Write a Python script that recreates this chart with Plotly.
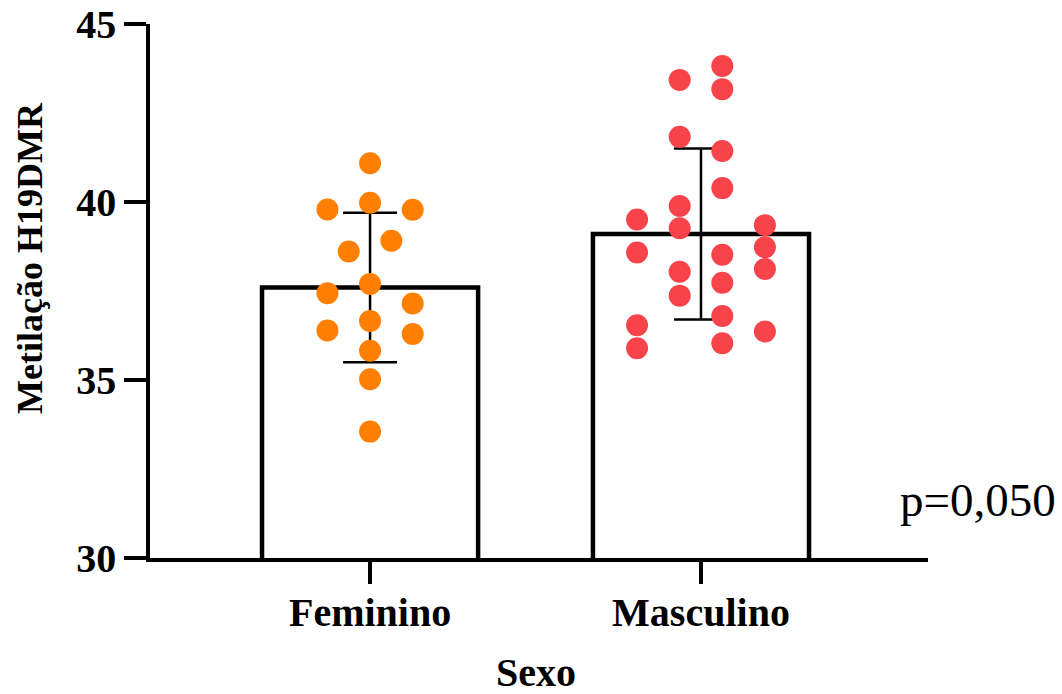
import plotly.graph_objects as go

# Groups, summary bars (mean ± SD) and individual measurements
categories = ["Feminino", "Masculino"]
bar_means = [37.6, 39.1]
bar_sd = [2.1, 2.4]

fem_values = [41.09, 39.79, 39.98, 39.78, 38.91, 38.61, 37.70, 37.44,
              37.15, 36.66, 36.39, 36.29, 35.82, 35.02, 33.55]
fem_slots = [0, -2, 0, 2, 1, -1, 0, -2, 2, 0, -2, 2, 0, 0, 0]

masc_values = [43.82, 43.43, 43.17, 41.83, 41.43, 40.39, 39.89, 39.51,
               39.35, 39.26, 38.73, 38.58, 38.52, 38.04, 38.12, 37.73,
               37.37, 36.80, 36.54, 36.36, 36.03, 35.89]
masc_slots = [1, -1, 1, -1, 1, 1, -1, -3, 3, -1, 3, -3, 1, -1, 3, 1,
              -1, 1, -3, 3, 1, -3]

y_ticks = [30, 35, 40, 45]
p_label = "p=0,050"

SERIF = "Liberation Serif, Times New Roman, serif"
SLOT_STEP = 0.0644  # horizontal step between swarm columns (x units)

fig = go.Figure()

fig.add_trace(go.Bar(
    x=[0, 1], y=bar_means, width=0.653,
    marker=dict(color="white", line=dict(color="black", width=4.5)),
    error_y=dict(type="data", array=bar_sd, visible=True,
                 color="black", thickness=2.5, width=27),
    showlegend=False, hoverinfo="skip",
))

for idx, (vals, slots, color) in enumerate([
    (fem_values, fem_slots, "#FF8000"),
    (masc_values, masc_slots, "#F8434A"),
]):
    fig.add_trace(go.Scatter(
        x=[idx + s * SLOT_STEP for s in slots], y=vals,
        mode="markers",
        marker=dict(size=22, color=color, line=dict(width=0)),
        showlegend=False, name=categories[idx],
    ))

fig.update_layout(
    width=1062, height=694,
    margin=dict(l=150, r=134, t=24, b=136),
    paper_bgcolor="white", plot_bgcolor="white",
    font=dict(family=SERIF, color="black"),
    xaxis=dict(
        range=[-0.665, 1.686], tickvals=[0, 1], ticktext=categories,
        showline=True, linecolor="black", linewidth=4,
        ticks="outside", ticklen=22, tickwidth=3.5, tickcolor="black",
        tickfont=dict(family=SERIF, size=40, weight="bold"),
        ticklabelstandoff=-6,
        showgrid=False, zeroline=False, automargin=False,
    ),
    yaxis=dict(
        range=[30, 45], tickvals=y_ticks,
        showline=True, linecolor="black", linewidth=3.5,
        ticks="outside", ticklen=22, tickwidth=3.5, tickcolor="black",
        tickfont=dict(family=SERIF, size=40, weight="bold"),
        showgrid=False, zeroline=False, automargin=False,
    ),
    annotations=[
        dict(text="Metilação H19DMR", textangle=-90, showarrow=False,
             xref="paper", yref="paper", x=0, xshift=-120, y=0.562,
             xanchor="center", yanchor="middle",
             font=dict(family=SERIF, size=36, weight="bold")),
        dict(text="Sexo", showarrow=False,
             xref="x", yref="paper", x=0.5, y=-0.2135,
             xanchor="center", yanchor="middle",
             font=dict(family=SERIF, size=40, weight="bold")),
        dict(text=p_label, showarrow=False,
             xref="paper", yref="y", x=1.064, y=31.63,
             xanchor="center", yanchor="middle",
             font=dict(family=SERIF, size=47)),
    ],
)

fig.write_html("out.html")
